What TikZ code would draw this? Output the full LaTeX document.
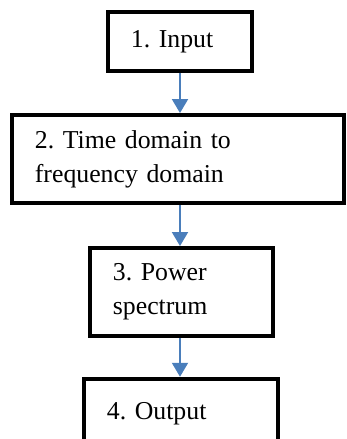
\documentclass[tikz,border=0pt]{standalone}
\usepackage{fontspec}
\setmainfont{Liberation Serif}
\usetikzlibrary{arrows.meta}

\definecolor{arrowblue}{RGB}{74,126,187}
\frenchspacing

\begin{document}
\begin{tikzpicture}[
        x=0.03cm, y=-0.03cm,
        block/.style={draw, line width=3.8pt, align=left, inner xsep=0.68cm, inner ysep=0pt,
            font=\fontsize{22}{29}\selectfont},
        flow/.style={-{Triangle[length=0.42cm, width=0.48cm]}, line width=1.7pt, arrowblue},
    ]
    \useasboundingbox (0,0) rectangle (347,439);

    \node[block, minimum width=4.305cm, minimum height=1.755cm, text width=2.945cm] (input) at (180,41.5) {1. Input};
    \node[block, minimum width=9.945cm, minimum height=2.625cm, text width=8.585cm] (fft) at (178,159) {2. Time domain to\\frequency domain};
    \node[block, minimum width=5.475cm, minimum height=2.625cm, text width=4.115cm] (power) at (181.5,292) {3. Power\\spectrum};
    \node[block, minimum width=5.805cm, minimum height=2.1cm, text width=4.445cm] (output) at (181,414) {4. Output\\[0.3cm]};

    \draw[flow] (input.south) -- (input.south |- fft.north);
    \draw[flow] (input.south |- fft.south) -- (input.south |- power.north);
    \draw[flow] (input.south |- power.south) -- (input.south |- output.north);
\end{tikzpicture}
\end{document}
